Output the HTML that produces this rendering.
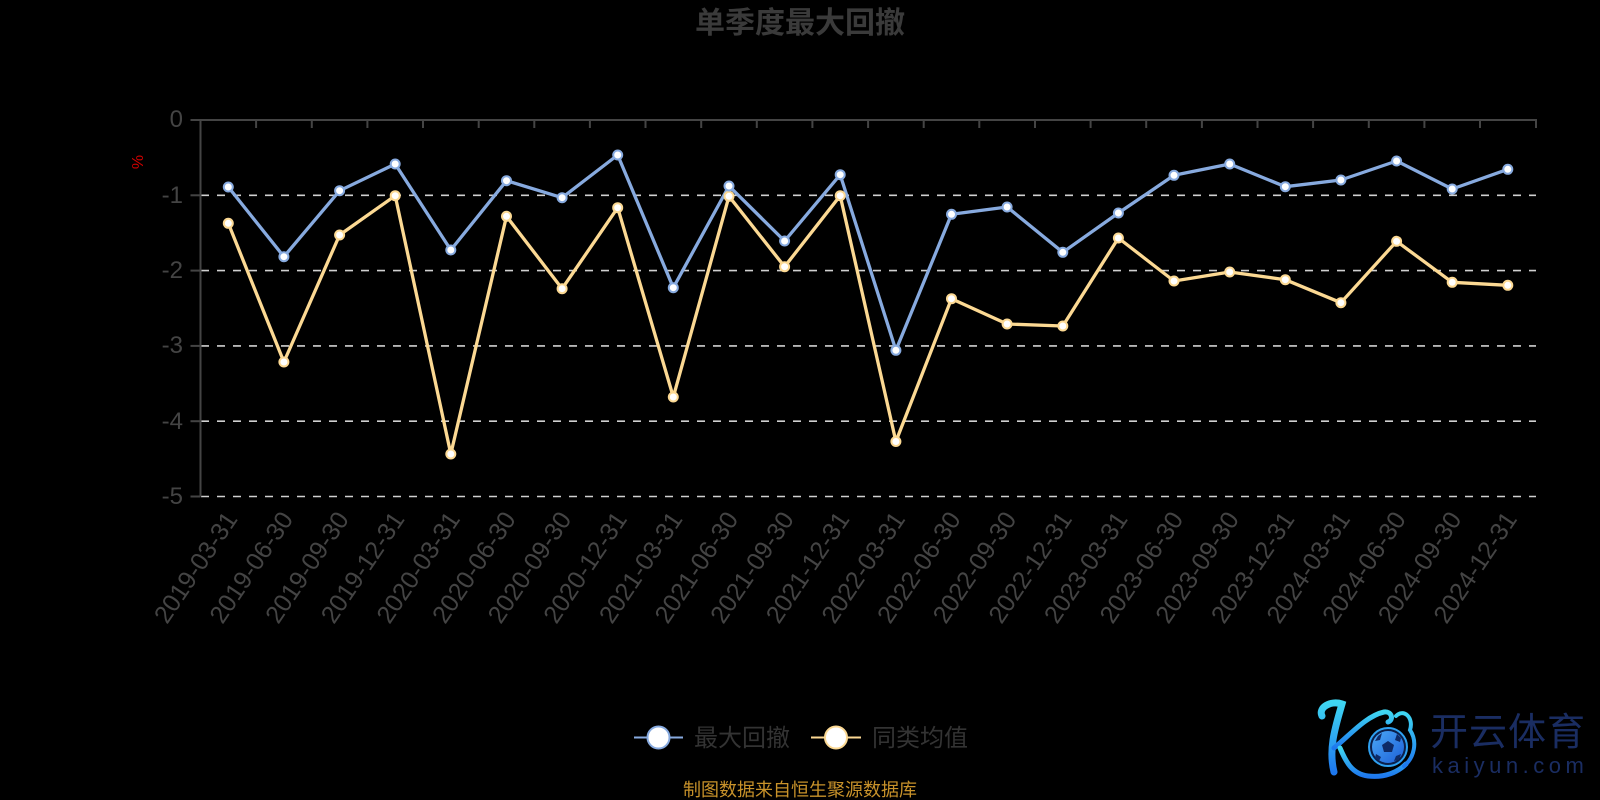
<!DOCTYPE html>
<html><head><meta charset="utf-8"><style>
html,body{margin:0;padding:0;background:#000;}
svg{display:block;}
text{font-family:"Liberation Sans","Noto Sans CJK SC",sans-serif;}
</style></head><body>
<svg width="1600" height="800" viewBox="0 0 1600 800" xmlns="http://www.w3.org/2000/svg">
<rect width="1600" height="800" fill="#000"/>
<text x="800" y="33" text-anchor="middle" font-size="30" font-weight="bold" fill="#3a3a3a">单季度最大回撤</text>

<!-- grid -->
<g stroke="#d0d0d0" stroke-width="1.6" stroke-dasharray="8 8">
<line x1="201" y1="195.3" x2="1536" y2="195.3"/>
<line x1="201" y1="270.6" x2="1536" y2="270.6"/>
<line x1="201" y1="345.9" x2="1536" y2="345.9"/>
<line x1="201" y1="421.2" x2="1536" y2="421.2"/>
<line x1="201" y1="496.5" x2="1536" y2="496.5"/>
</g>
<!-- axes -->
<g stroke="#444" stroke-width="2" fill="none">
<line x1="200.5" y1="120" x2="200.5" y2="496.5"/>
<line x1="200.5" y1="120" x2="1537" y2="120"/>
<line x1="190.5" y1="120" x2="200.5" y2="120"/>
<line x1="190.5" y1="195.3" x2="200.5" y2="195.3"/>
<line x1="190.5" y1="270.6" x2="200.5" y2="270.6"/>
<line x1="190.5" y1="345.9" x2="200.5" y2="345.9"/>
<line x1="190.5" y1="421.2" x2="200.5" y2="421.2"/>
<line x1="190.5" y1="496.5" x2="200.5" y2="496.5"/>
<path d="M256.1 120v8M311.8 120v8M367.4 120v8M423 120v8M478.7 120v8M534.3 120v8M589.9 120v8M645.5 120v8M701.2 120v8M756.8 120v8M812.4 120v8M868.1 120v8M923.7 120v8M979.3 120v8M1035 120v8M1090.6 120v8M1146.2 120v8M1201.9 120v8M1257.5 120v8M1313.1 120v8M1368.8 120v8M1424.4 120v8M1480 120v8M1536 120v8"/>
</g>
<!-- y labels -->
<g font-size="24" fill="#444" text-anchor="end">
<text x="183" y="127">0</text>
<text x="183" y="203">-1</text>
<text x="183" y="278">-2</text>
<text x="183" y="353">-3</text>
<text x="183" y="429">-4</text>
<text x="183" y="504">-5</text>
</g>
<text transform="translate(143,162) rotate(-90)" font-size="16" fill="#d00000" text-anchor="middle">%</text>

<!-- x labels -->
<g font-size="25" fill="#444" text-anchor="end">
<text transform="translate(231,514) rotate(-56)" dy="9">2019-03-31</text>
<text transform="translate(286.6,514) rotate(-56)" dy="9">2019-06-30</text>
<text transform="translate(342.3,514) rotate(-56)" dy="9">2019-09-30</text>
<text transform="translate(397.9,514) rotate(-56)" dy="9">2019-12-31</text>
<text transform="translate(453.5,514) rotate(-56)" dy="9">2020-03-31</text>
<text transform="translate(509.2,514) rotate(-56)" dy="9">2020-06-30</text>
<text transform="translate(564.8,514) rotate(-56)" dy="9">2020-09-30</text>
<text transform="translate(620.4,514) rotate(-56)" dy="9">2020-12-31</text>
<text transform="translate(676,514) rotate(-56)" dy="9">2021-03-31</text>
<text transform="translate(731.7,514) rotate(-56)" dy="9">2021-06-30</text>
<text transform="translate(787.3,514) rotate(-56)" dy="9">2021-09-30</text>
<text transform="translate(842.9,514) rotate(-56)" dy="9">2021-12-31</text>
<text transform="translate(898.6,514) rotate(-56)" dy="9">2022-03-31</text>
<text transform="translate(954.2,514) rotate(-56)" dy="9">2022-06-30</text>
<text transform="translate(1009.8,514) rotate(-56)" dy="9">2022-09-30</text>
<text transform="translate(1065.5,514) rotate(-56)" dy="9">2022-12-31</text>
<text transform="translate(1121.1,514) rotate(-56)" dy="9">2023-03-31</text>
<text transform="translate(1176.7,514) rotate(-56)" dy="9">2023-06-30</text>
<text transform="translate(1232.4,514) rotate(-56)" dy="9">2023-09-30</text>
<text transform="translate(1288,514) rotate(-56)" dy="9">2023-12-31</text>
<text transform="translate(1343.6,514) rotate(-56)" dy="9">2024-03-31</text>
<text transform="translate(1399.3,514) rotate(-56)" dy="9">2024-06-30</text>
<text transform="translate(1454.9,514) rotate(-56)" dy="9">2024-09-30</text>
<text transform="translate(1510.5,514) rotate(-56)" dy="9">2024-12-31</text>
</g>

<!-- series: yellow (同类均值) -->
<polyline fill="none" stroke="#fcd993" stroke-width="3.3" stroke-linejoin="round" points="228.3,223.3 283.9,362 339.6,235 395.2,195.7 450.8,454 506.5,216.3 562.1,288.7 617.7,207.7 673.3,397 729,196.3 784.6,266.7 840.2,195.7 895.9,441.5 951.5,298.7 1007.1,324 1062.8,326 1118.4,238 1174,281 1229.7,272 1285.3,279.7 1340.9,302.7 1396.6,241.3 1452.2,282.3 1507.8,285.3"/>
<!-- series: blue (最大回撤) -->
<polyline fill="none" stroke="#87aadf" stroke-width="3.3" stroke-linejoin="round" points="228.3,187 283.9,256.7 339.6,190.7 395.2,164 450.8,250 506.5,180.7 562.1,197.7 617.7,155 673.3,287.7 729,186 784.6,241 840.2,174.7 895.9,350.3 951.5,214.3 1007.1,207 1062.8,252.3 1118.4,213 1174,175.3 1229.7,164 1285.3,186.7 1340.9,180 1396.6,161 1452.2,189 1507.8,169.3"/>

<g fill="#fff" stroke="#fcd993" stroke-width="2">
<circle cx="228.3" cy="223.3" r="4.5"/><circle cx="283.9" cy="362" r="4.5"/><circle cx="339.6" cy="235" r="4.5"/><circle cx="395.2" cy="195.7" r="4.5"/><circle cx="450.8" cy="454" r="4.5"/><circle cx="506.5" cy="216.3" r="4.5"/><circle cx="562.1" cy="288.7" r="4.5"/><circle cx="617.7" cy="207.7" r="4.5"/><circle cx="673.3" cy="397" r="4.5"/><circle cx="729" cy="196.3" r="4.5"/><circle cx="784.6" cy="266.7" r="4.5"/><circle cx="840.2" cy="195.7" r="4.5"/><circle cx="895.9" cy="441.5" r="4.5"/><circle cx="951.5" cy="298.7" r="4.5"/><circle cx="1007.1" cy="324" r="4.5"/><circle cx="1062.8" cy="326" r="4.5"/><circle cx="1118.4" cy="238" r="4.5"/><circle cx="1174" cy="281" r="4.5"/><circle cx="1229.7" cy="272" r="4.5"/><circle cx="1285.3" cy="279.7" r="4.5"/><circle cx="1340.9" cy="302.7" r="4.5"/><circle cx="1396.6" cy="241.3" r="4.5"/><circle cx="1452.2" cy="282.3" r="4.5"/><circle cx="1507.8" cy="285.3" r="4.5"/>
</g>
<g fill="#fff" stroke="#87aadf" stroke-width="2">
<circle cx="228.3" cy="187" r="4.5"/><circle cx="283.9" cy="256.7" r="4.5"/><circle cx="339.6" cy="190.7" r="4.5"/><circle cx="395.2" cy="164" r="4.5"/><circle cx="450.8" cy="250" r="4.5"/><circle cx="506.5" cy="180.7" r="4.5"/><circle cx="562.1" cy="197.7" r="4.5"/><circle cx="617.7" cy="155" r="4.5"/><circle cx="673.3" cy="287.7" r="4.5"/><circle cx="729" cy="186" r="4.5"/><circle cx="784.6" cy="241" r="4.5"/><circle cx="840.2" cy="174.7" r="4.5"/><circle cx="895.9" cy="350.3" r="4.5"/><circle cx="951.5" cy="214.3" r="4.5"/><circle cx="1007.1" cy="207" r="4.5"/><circle cx="1062.8" cy="252.3" r="4.5"/><circle cx="1118.4" cy="213" r="4.5"/><circle cx="1174" cy="175.3" r="4.5"/><circle cx="1229.7" cy="164" r="4.5"/><circle cx="1285.3" cy="186.7" r="4.5"/><circle cx="1340.9" cy="180" r="4.5"/><circle cx="1396.6" cy="161" r="4.5"/><circle cx="1452.2" cy="189" r="4.5"/><circle cx="1507.8" cy="169.3" r="4.5"/>
</g>

<!-- legend -->
<line x1="634" y1="737.5" x2="683" y2="737.5" stroke="#87aadf" stroke-width="2"/>
<circle cx="658.5" cy="737.5" r="11" fill="#fff" stroke="#87aadf" stroke-width="2"/>
<text x="694" y="746" font-size="24" fill="#333">最大回撤</text>
<line x1="811" y1="737.5" x2="861" y2="737.5" stroke="#fcd993" stroke-width="2"/>
<circle cx="836" cy="737.5" r="11" fill="#fff" stroke="#fcd993" stroke-width="2"/>
<text x="872" y="746" font-size="24" fill="#333">同类均值</text>

<!-- footer -->
<text x="800" y="796" text-anchor="middle" font-size="18" fill="#c8922a">制图数据来自恒生聚源数据库</text>

<!-- logo -->
<defs>
<linearGradient id="lg" x1="0" y1="0" x2="0" y2="1">
<stop offset="0" stop-color="#3fd6f2"/><stop offset="1" stop-color="#1e78ee"/>
</linearGradient>
<linearGradient id="bg" x1="0" y1="0" x2="1" y2="1">
<stop offset="0" stop-color="#4aa8f5"/><stop offset="1" stop-color="#1d5fd8"/>
</linearGradient>
</defs>
<g fill="none" stroke="url(#lg)" stroke-linecap="round">
<path d="M1322 716 C1318 708 1330 700 1342 704 C1336 725 1328 748 1334 772" stroke-width="7"/>
<path d="M1334 748 C1350 735 1366 716 1384 712 C1392 711 1394 720 1388 722" stroke-width="5"/>
<path d="M1340 748 C1346 762 1352 774 1368 776 C1385 778 1398 772 1406 764" stroke-width="5"/>
<path d="M1396 716 C1404 708 1414 718 1410 730 C1418 742 1414 758 1404 766" stroke-width="4"/>
</g>
<circle cx="1388" cy="747" r="19" fill="#0b1f4a" stroke="#2ea0f0" stroke-width="2"/>
<circle cx="1388" cy="747" r="16" fill="url(#bg)"/>
<g fill="#0e2a66">
<polygon points="1388,741 1394,745 1392,752 1384,752 1382,745"/>
<polygon points="1378,736 1382,733 1380,740 1375,741"/>
<polygon points="1397,734 1401,738 1400,742 1395,740"/>
<polygon points="1376,754 1381,757 1379,761 1375,758"/>
<polygon points="1396,756 1401,754 1399,760 1394,761"/>
</g>
<text x="1430" y="745" font-size="38" fill="#1a2d62" font-family="'Noto Sans CJK SC',sans-serif" letter-spacing="1">开云体育</text>
<text x="1432" y="773" font-size="22" fill="#1a2d62" letter-spacing="4.5">kaiyun.com</text>
</svg>
</body></html>
